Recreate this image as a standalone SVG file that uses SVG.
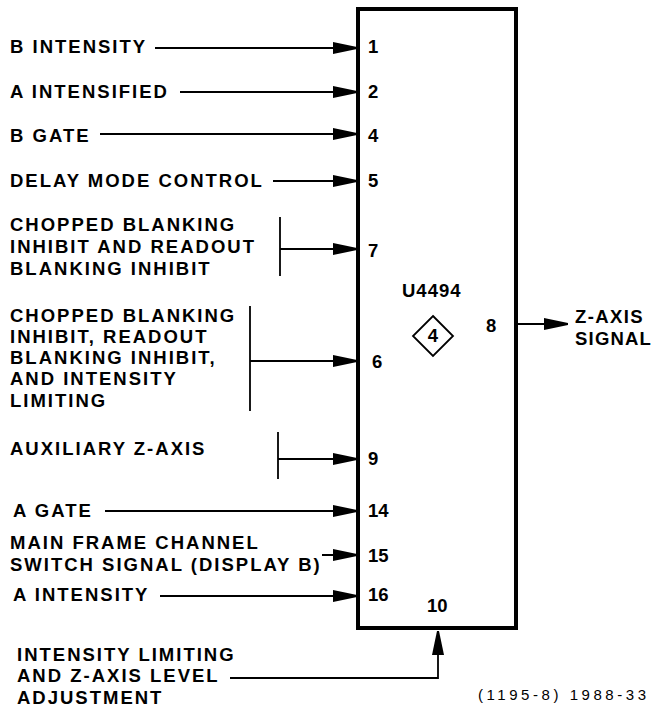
<svg xmlns="http://www.w3.org/2000/svg" width="653" height="708" viewBox="0 0 653 708">
<style>
text{font-family:"Liberation Sans",Arial,sans-serif;font-weight:bold;fill:#000}
.lbl{font-size:18.5px;letter-spacing:2px}
.pin{font-size:18.5px}
.ln{stroke:#000;stroke-width:1.8;fill:none}
.box{stroke:#000;stroke-width:4;fill:#fff}
.foot{font-size:15px;font-weight:normal}
</style>
<defs>
<marker id="ah" markerUnits="userSpaceOnUse" markerWidth="26" markerHeight="14" refX="24" refY="7" orient="auto">
<path d="M0,1 L24,6 L24,8 L0,13 Z" fill="#000"/>
</marker>
</defs>
<g id="chip">
<rect class="box" x="358" y="9" width="158" height="619"/>
<text class="pin" x="402" y="297" letter-spacing="1">U4494</text>
<path d="M433,316 L453,336 L433,356 L413,336 Z" fill="none" stroke="#000" stroke-width="1.8"/>
<text class="pin" x="433" y="342" text-anchor="middle">4</text>
<text class="pin" x="368" y="53">1</text>
<text class="pin" x="368" y="98">2</text>
<text class="pin" x="368" y="142">4</text>
<text class="pin" x="368" y="187">5</text>
<text class="pin" x="368" y="257">7</text>
<text class="pin" x="372" y="368">6</text>
<text class="pin" x="368" y="465">9</text>
<text class="pin" x="368" y="517">14</text>
<text class="pin" x="368" y="562">15</text>
<text class="pin" x="368" y="601">16</text>
<text class="pin" x="427" y="612">10</text>
<text class="pin" x="486" y="332">8</text>
</g>
<g id="labels">
<text class="lbl" x="10" y="53">B INTENSITY</text>
<text class="lbl" x="10" y="98">A INTENSIFIED</text>
<text class="lbl" x="10" y="142">B GATE</text>
<text class="lbl" x="10" y="187">DELAY MODE CONTROL</text>
<text class="lbl" x="10" y="231">CHOPPED BLANKING</text>
<text class="lbl" x="10" y="253">INHIBIT AND READOUT</text>
<text class="lbl" x="10" y="275">BLANKING INHIBIT</text>
<text class="lbl" x="10" y="322">CHOPPED BLANKING</text>
<text class="lbl" x="10" y="343">INHIBIT, READOUT</text>
<text class="lbl" x="10" y="364">BLANKING INHIBIT,</text>
<text class="lbl" x="10" y="385">AND INTENSITY</text>
<text class="lbl" x="10" y="407">LIMITING</text>
<text class="lbl" x="10" y="455">AUXILIARY Z-AXIS</text>
<text class="lbl" x="13" y="517">A GATE</text>
<text class="lbl" x="10" y="549">MAIN FRAME CHANNEL</text>
<text class="lbl" x="10" y="571">SWITCH SIGNAL (DISPLAY B)</text>
<text class="lbl" x="13" y="601">A INTENSITY</text>
<text class="lbl" x="17" y="661">INTENSITY LIMITING</text>
<text class="lbl" x="17" y="682">AND Z-AXIS LEVEL</text>
<text class="lbl" x="17" y="704">ADJUSTMENT</text>
<text class="pin" x="575" y="323" letter-spacing="1.4">Z-AXIS</text>
<text class="pin" x="575" y="345" letter-spacing="1.2">SIGNAL</text>
<text class="foot" x="478" y="700" textLength="168" lengthAdjust="spacing">(1195-8) 1988-33</text>
</g>
<g id="connectors">
<line class="ln" x1="155" y1="48" x2="357" y2="48" marker-end="url(#ah)"/>
<line class="ln" x1="180" y1="92" x2="357" y2="92" marker-end="url(#ah)"/>
<line class="ln" x1="100" y1="134" x2="357" y2="134" marker-end="url(#ah)"/>
<line class="ln" x1="273" y1="181" x2="357" y2="181" marker-end="url(#ah)"/>
<line class="ln" x1="280" y1="217" x2="280" y2="276"/>
<line class="ln" x1="280" y1="249" x2="357" y2="249" marker-end="url(#ah)"/>
<line class="ln" x1="250" y1="306" x2="250" y2="411"/>
<line class="ln" x1="250" y1="361" x2="357" y2="361" marker-end="url(#ah)"/>
<line class="ln" x1="278" y1="432" x2="278" y2="479"/>
<line class="ln" x1="278" y1="459" x2="357" y2="459" marker-end="url(#ah)"/>
<line class="ln" x1="105" y1="511" x2="357" y2="511" marker-end="url(#ah)"/>
<line class="ln" x1="322" y1="555" x2="357" y2="555" marker-end="url(#ah)"/>
<line class="ln" x1="160" y1="596" x2="357" y2="596" marker-end="url(#ah)"/>
<polyline class="ln" points="230,678 438,678 438,631" marker-end="url(#ah)"/>
<line class="ln" x1="517" y1="324" x2="568" y2="324" marker-end="url(#ah)" stroke-width="2.5"/>
</g>
</svg>
